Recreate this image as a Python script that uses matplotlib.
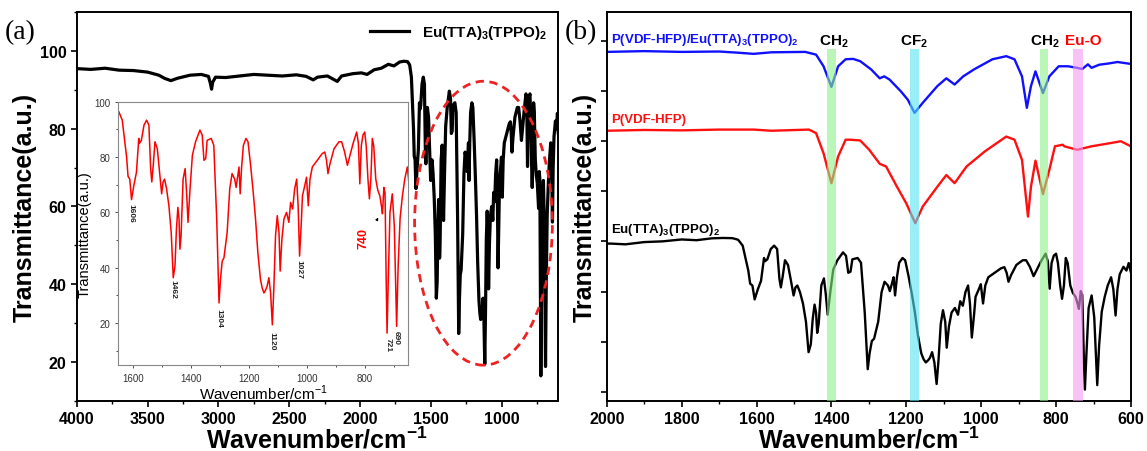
"""
FTIR spectra: (a) Eu(TTA)3(TPPO)2 with inset zoom of the fingerprint region,
(b) stacked spectra of P(VDF-HFP)/Eu(TTA)3(TPPO)2, P(VDF-HFP) and the complex.
"""

import numpy as np
import matplotlib.pyplot as plt
from matplotlib.patches import Ellipse
from matplotlib.ticker import MultipleLocator, NullFormatter

plt.rcParams["font.family"] = ["Liberation Sans", "DejaVu Sans"]
plt.rcParams["mathtext.fontset"] = "custom"
plt.rcParams["mathtext.rm"] = "Liberation Sans"
plt.rcParams["mathtext.bf"] = "Liberation Sans:bold"

# ── Data ──────────────────────────────────────────────────────────────────────

# Eu(TTA)3(TPPO)2, transmittance (%) vs wavenumber (cm-1)
EU_WN = [4000, 3900, 3800, 3700, 3600, 3500, 3420, 3380, 3335, 3290, 3200, 3120,
         3070, 3055, 3048, 3040, 3020, 2950, 2850, 2750, 2650, 2550, 2450, 2380,
         2330, 2300, 2230, 2180, 2160, 2130, 2050, 1990, 1950, 1900, 1850, 1800,
         1760, 1720, 1690, 1665, 1655,
         1649, 1637, 1631, 1622, 1617, 1611, 1605, 1597, 1588, 1580, 1577, 1571,
         1562, 1553, 1545, 1539, 1535, 1530, 1524, 1516, 1508, 1501, 1496, 1491,
         1484, 1476, 1468, 1461, 1455, 1450, 1445, 1441, 1438, 1434, 1427, 1420,
         1415, 1410, 1403, 1395, 1384, 1369, 1361, 1355, 1349, 1344, 1330, 1321,
         1311, 1303, 1298, 1292, 1286, 1275, 1266, 1258, 1249, 1244, 1238, 1234,
         1230, 1225, 1219, 1210, 1203, 1194, 1185, 1177, 1169, 1160, 1154, 1148,
         1142, 1137, 1131, 1125, 1119, 1114, 1108, 1102, 1096, 1092, 1086, 1079,
         1070, 1062, 1056, 1049, 1042, 1035, 1030, 1025, 1019, 1015, 1007, 1001,
         995, 989, 981, 964, 947, 938, 932, 927, 920, 906, 889, 880, 870, 860,
         850, 840, 828, 822, 817, 812, 806, 800, 795, 789, 784, 779, 774, 769,
         762, 755, 748, 742, 739, 734, 730, 726, 723, 719, 713, 705, 698, 690,
         685, 678, 670, 662, 653, 647, 641, 636, 630, 620, 612, 606, 600]
EU_T = [95.5, 95.3, 95.6, 95.1, 95.0, 94.6, 93.8, 93.0, 92.4, 93.0, 93.8, 94.0,
        93.5, 91.5, 90.2, 92.0, 93.3, 93.2, 93.6, 94.0, 93.8, 93.6, 93.9, 93.5,
        92.6, 93.3, 93.6, 92.6, 92.2, 93.6, 94.2, 94.4, 94.0, 95.2, 95.6, 96.6,
        96.2, 97.2, 97.4, 97.3, 96.8,
        96.4, 93.3, 87.9, 80.0, 73.0, 72.0, 64.6, 69.7, 74.5, 86.7, 85.0, 86.0,
        91.5, 93.3, 91.5, 75.8, 71.0, 77.0, 85.5, 83.0, 74.5, 66.7, 71.0, 72.0,
        68.5, 62.4, 52.7, 36.4, 40.6, 54.0, 61.8, 57.6, 46.7, 51.5, 72.0, 75.8,
        67.3, 56.4, 68.5, 80.6, 85.5, 89.7, 87.9, 78.8, 79.4, 86.0, 86.7, 84.2,
        57.6, 27.3, 35.8, 42.4, 43.6, 52.7, 68.5, 74.0, 72.0, 69.0, 73.3, 76.4,
        66.7, 76.4, 84.2, 86.7, 85.5, 77.0, 67.3, 57.6, 45.5, 35.8, 32.7, 30.9,
        32.0, 33.3, 36.4, 30.9, 19.4, 32.0, 51.5, 58.8, 52.7, 38.8, 50.3, 57.6,
        60.0, 56.4, 63.6, 61.2, 68.5, 72.0, 62.4, 44.2, 56.4, 66.0, 69.7, 72.7,
        62.4, 72.0, 76.4, 78.8, 81.2, 81.8, 78.8, 74.0, 77.6, 83.0, 85.5, 85.5,
        82.0, 77.0, 81.0, 85.0, 89.0, 85.0, 70.3, 84.0, 88.0, 89.0, 84.0, 72.0,
        64.9, 72.0, 86.7, 84.0, 72.0, 68.0, 66.0, 62.0, 59.5, 69.0, 67.0, 35.0,
        16.4, 35.0, 60.0, 66.7, 55.0, 18.8, 40.0, 58.0, 66.0, 72.0, 76.4, 70.0,
        56.0, 70.0, 78.0, 82.0, 80.0, 84.0, 79.0]

# Panel (b) stacked curves, arbitrary offset units (0 = bottom, 100 = top)
BLEND_WN = [2000, 1900, 1800, 1700, 1650, 1608, 1560, 1470, 1441, 1421, 1400,
            1382, 1362, 1342, 1323, 1294, 1271, 1259, 1245, 1215, 1196, 1178,
            1156, 1117, 1093, 1071, 1048, 1019, 970, 933, 911, 891, 878, 867,
            855, 835, 818, 793, 768, 744, 730, 715, 705, 685, 661, 636, 600]
BLEND_Y = [89.8, 90.0, 89.8, 89.9, 89.6, 89.3, 89.7, 89.8, 89.1, 86.1, 80.8,
           86.1, 87.9, 88.0, 87.4, 85.3, 83.0, 83.5, 82.7, 79.7, 77.5, 74.1,
           76.7, 81.0, 83.0, 81.4, 83.5, 85.3, 87.9, 88.7, 87.9, 83.5, 75.4, 81.0,
           84.8, 79.2, 83.5, 86.1, 86.1, 85.7, 85.4, 86.6, 85.7, 86.5, 86.8,
           87.2, 86.7]

PVDF_WN = [2000, 1900, 1800, 1700, 1608, 1560, 1460, 1441, 1421, 1400, 1382,
           1362, 1351, 1323, 1299, 1271, 1254, 1225, 1200, 1176, 1156, 1117,
           1093, 1071, 1039, 990, 933, 911, 891, 875, 867, 855, 835, 818, 803,
           782, 778, 744, 705, 656, 627, 600]
PVDF_Y = [69.5, 69.7, 69.6, 69.8, 69.8, 69.5, 69.8, 68.9, 63.7, 56.0, 62.9,
          67.2, 67.2, 67.0, 64.6, 61.0, 60.3, 55.1, 50.8, 45.7, 50.0, 55.1,
          58.1, 56.0, 60.3, 64.2, 68.0, 67.2, 62.0, 47.4, 55.1, 61.8, 53.2,
          59.4, 65.5, 65.9, 65.5, 64.6, 65.5, 66.3, 66.8, 65.5]

# the complex spectrum is stacked at the bottom of panel (b)
EU_STACK_SCALE = 0.482
EU_STACK_SHIFT = -5.05

INSET_PEAKS = [1606, 1462, 1304, 1120, 1027, 721, 690]
INSET_PEAK_LABEL_Y = [63.4, 35.8, 25.5, 17.3, 43.0, 15.0, 17.6]

# highlighted bands in (b): (low, high, colour)
BANDS = [(1388, 1411, "#8df08a"), (1166, 1189, "#55e4f2"),
         (821, 842, "#8df08a"), (728, 754, "#f59af2")]
BAND_LABELS = [("CH$_\\mathbf{2}$", 1394, "black"), ("CF$_\\mathbf{2}$", 1179, "black"),
               ("CH$_\\mathbf{2}$", 830, "black"), ("Eu-O", 727, "red")]

LABEL_EU = "Eu(TTA)$_\\mathbf{3}$(TPPO)$_\\mathbf{2}$"
LABEL_BLEND = "P(VDF-HFP)/Eu(TTA)$_\\mathbf{3}$(TPPO)$_\\mathbf{2}$"
XLABEL = "Wavenumber/cm$^\\mathbf{-1}$"

# ── Figure ────────────────────────────────────────────────────────────────────

fig = plt.figure(figsize=(11.47, 4.52), dpi=100)

ax_a = fig.add_axes([0.0669, 0.1113, 0.4192, 0.8593])
ax_b = fig.add_axes([0.529, 0.1113, 0.457, 0.8593])
ax_in = fig.add_axes([0.1033, 0.191, 0.2521, 0.582])

# ── (a) ──
ax_a.plot(EU_WN, EU_T, color="black", lw=2.3, label=LABEL_EU)
ax_a.add_patch(Ellipse((1128, 55.7), 973, 73.1, fill=False, ls=(0, (3, 2)),
                       ec="#ee2222", lw=2.0, zorder=4))
ax_a.set_xlim(4000, 605)
ax_a.set_ylim(10, 110)
ax_a.xaxis.set_major_locator(MultipleLocator(500))
ax_a.xaxis.set_minor_locator(MultipleLocator(250))
ax_a.set_yticks([20, 40, 60, 80, 100])
ax_a.yaxis.set_minor_locator(MultipleLocator(10))
ax_a.set_xlabel(XLABEL, fontsize=18, fontweight="bold", labelpad=0)
ax_a.set_ylabel("Transmittance(a.u.)", fontsize=18, fontweight="bold", labelpad=2)
ax_a.legend(loc="upper right", frameon=False, handlelength=2.6,
            prop={"size": 11, "weight": "bold"}, borderaxespad=0.3)

# ── inset ──
ax_in.plot(EU_WN, EU_T, color="red", lw=1.1)
ax_in.set_xlim(1650, 652)
ax_in.set_ylim(5, 100)
ax_in.xaxis.set_major_locator(MultipleLocator(200))
ax_in.xaxis.set_minor_locator(MultipleLocator(100))
ax_in.set_yticks([20, 40, 60, 80, 100])
ax_in.yaxis.set_minor_locator(MultipleLocator(10))
ax_in.tick_params(labelsize=7, colors="#333333", length=2.5, width=0.6)
ax_in.tick_params(which="minor", length=1.5, width=0.5)
for sp in ax_in.spines.values():
    sp.set_color("#888888")
    sp.set_linewidth(0.8)
ax_in.set_xlabel(XLABEL.replace("\\mathbf", "\\mathrm"), fontsize=11, labelpad=0)
ax_in.set_ylabel("Transmittance(a.u.)", fontsize=10.5, labelpad=2)
for wn, y in zip(INSET_PEAKS, INSET_PEAK_LABEL_Y):
    ax_in.text(wn, y, str(wn), rotation=270, ha="center", va="top",
               fontsize=6, fontweight="bold", color="#222222")
ax_in.text(803, 51, "740", rotation=90, ha="center", va="center",
           fontsize=9, fontweight="bold", color="red")
ax_in.annotate("", xy=(749, 59), xytext=(763, 56.3),
               arrowprops=dict(arrowstyle="-|>", color="black", lw=0.6,
                               mutation_scale=4))

# ── (b) ──
eu_stack = np.array(EU_T) * EU_STACK_SCALE + EU_STACK_SHIFT
ax_b.plot(BLEND_WN, BLEND_Y, color="#1010ff", lw=1.7)
ax_b.plot(PVDF_WN, PVDF_Y, color="#ff1010", lw=1.7)
ax_b.plot(EU_WN, eu_stack, color="black", lw=1.7)
for lo, hi, c in BANDS:
    ax_b.axvspan(lo, hi, ymin=0, ymax=0.905, color=c, alpha=0.6, lw=0, zorder=3)
for txt, wn, c in BAND_LABELS:
    ax_b.text(wn, 92.8, txt, ha="center", va="center", fontsize=11,
              fontweight="bold", color=c)
ax_b.text(1988, 93.2, LABEL_BLEND, ha="left", va="center", fontsize=9.5,
          fontweight="bold", color="#1010ff")
ax_b.text(1988, 72.6, "P(VDF-HFP)", ha="left", va="center", fontsize=9.5,
          fontweight="bold", color="#ff1010")
ax_b.text(1988, 44.2, LABEL_EU, ha="left", va="center", fontsize=9.5,
          fontweight="bold", color="black")
ax_b.set_xlim(2000, 600)
ax_b.set_ylim(0, 100)
ax_b.xaxis.set_major_locator(MultipleLocator(200))
ax_b.xaxis.set_minor_locator(MultipleLocator(100))
ax_b.set_yticks(np.arange(2.3, 100, 12.9))
ax_b.yaxis.set_major_formatter(NullFormatter())
ax_b.set_xlabel(XLABEL, fontsize=18, fontweight="bold", labelpad=0)
ax_b.set_ylabel("Transmittance(a.u.)", fontsize=18, fontweight="bold", labelpad=0)

for ax in (ax_a, ax_b):
    ax.tick_params(labelsize=11.5, length=4, width=1.2)
    ax.tick_params(which="minor", length=2.5, width=1.0)
    for lab in ax.get_xticklabels() + ax.get_yticklabels():
        lab.set_fontweight("bold")
    for sp in ax.spines.values():
        sp.set_linewidth(1.4)

fig.text(0.004, 0.955, "(a)", fontsize=20, family="Liberation Serif", va="top")
fig.text(0.492, 0.955, "(b)", fontsize=20, family="Liberation Serif", va="top")

fig.savefig("out.png", dpi=100)
